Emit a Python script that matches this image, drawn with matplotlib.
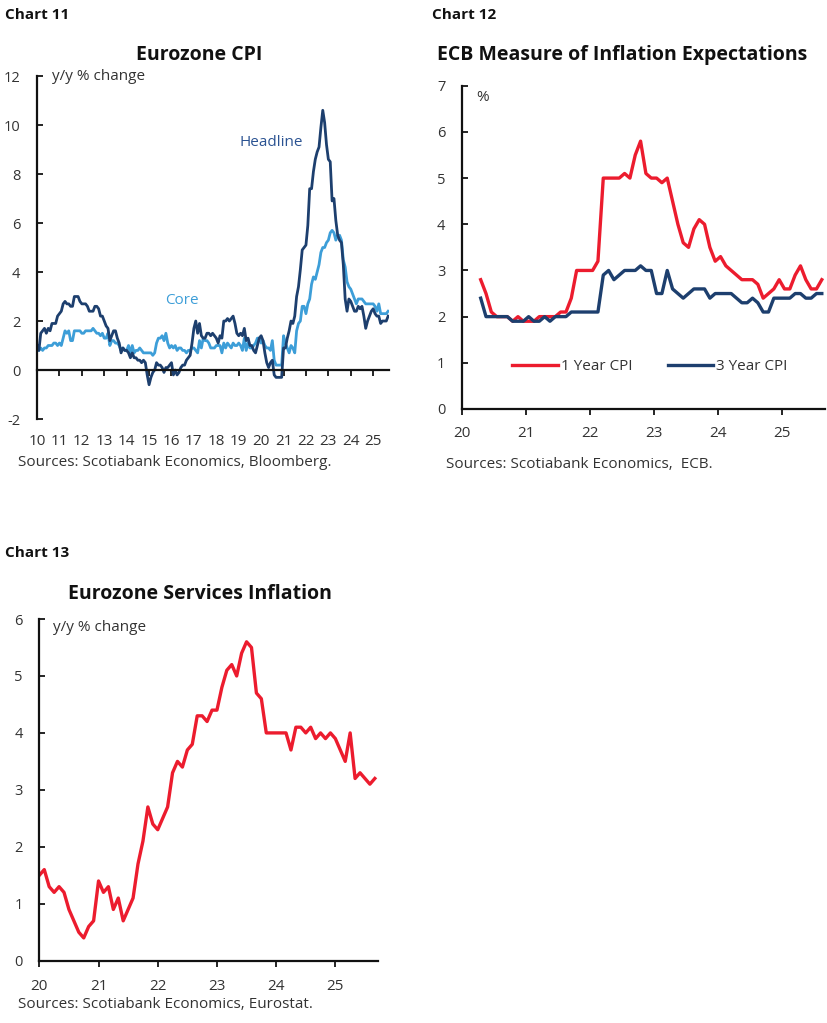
import numpy as np
import matplotlib
matplotlib.use("Agg")
import matplotlib.pyplot as plt

plt.rcParams['font.family'] = ['Open Sans', 'DejaVu Sans']

NAVY = '#1d3f6e'
LIGHT = '#3d9ed8'
RED = '#ec1c2e'
TXT = '#333333'

# ---- Chart 11 : Eurozone CPI (monthly, Jan 2010 - Sep 2025) ----
headline = [
    1.0, 0.8, 1.5, 1.6, 1.7, 1.5, 1.7, 1.6, 1.9, 1.9, 1.9, 2.2,
    2.3, 2.4, 2.7, 2.8, 2.7, 2.7, 2.6, 2.6, 3.0, 3.0, 3.0, 2.8,
    2.7, 2.7, 2.7, 2.6, 2.4, 2.4, 2.4, 2.6, 2.6, 2.5, 2.2, 2.2,
    2.0, 1.8, 1.7, 1.2, 1.4, 1.6, 1.6, 1.3, 1.1, 0.7, 0.9, 0.8,
    0.8, 0.7, 0.5, 0.7, 0.5, 0.5, 0.4, 0.4, 0.3, 0.4, 0.3, -0.2,
    -0.6, -0.3, -0.1, 0.0, 0.3, 0.2, 0.2, 0.1, -0.1, 0.1, 0.1, 0.2,
    0.3, -0.2, 0.0, -0.2, -0.1, 0.1, 0.2, 0.2, 0.4, 0.5, 0.6, 1.1,
    1.7, 2.0, 1.5, 1.9, 1.4, 1.3, 1.3, 1.5, 1.5, 1.4, 1.5, 1.4,
    1.3, 1.1, 1.4, 1.3, 2.0, 2.0, 2.1, 2.0, 2.1, 2.2, 1.9, 1.5,
    1.4, 1.5, 1.4, 1.7, 1.2, 1.3, 1.0, 1.0, 0.8, 0.7, 1.0, 1.3,
    1.4, 1.2, 0.7, 0.3, 0.1, 0.3, 0.4, -0.2, -0.3, -0.3, -0.3, -0.3,
    0.9, 0.9, 1.3, 1.6, 2.0, 1.9, 2.2, 3.0, 3.4, 4.1, 4.9, 5.0,
    5.1, 5.9, 7.4, 7.4, 8.1, 8.6, 8.9, 9.1, 9.9, 10.6, 10.1, 9.2,
    8.6, 8.5, 6.9, 7.0, 6.1, 5.5, 5.3, 5.2, 4.3, 2.9, 2.4, 2.9,
    2.8, 2.6, 2.4, 2.4, 2.6, 2.5, 2.6, 2.2, 1.7, 2.0, 2.2, 2.4,
    2.5, 2.3, 2.2, 2.2, 1.9, 2.0, 2.0, 2.0, 2.2,
]
core = [
    0.9, 0.8, 0.9, 0.8, 0.9, 0.9, 1.0, 1.0, 1.0, 1.1, 1.1, 1.0,
    1.1, 1.0, 1.3, 1.6, 1.5, 1.6, 1.2, 1.2, 1.6, 1.6, 1.6, 1.6,
    1.5, 1.5, 1.6, 1.6, 1.6, 1.6, 1.7, 1.6, 1.5, 1.5, 1.4, 1.5,
    1.3, 1.3, 1.5, 1.0, 1.2, 1.2, 1.1, 1.1, 1.0, 0.8, 0.9, 0.8,
    0.8, 1.0, 0.7, 1.0, 0.7, 0.8, 0.8, 0.9, 0.8, 0.7, 0.7, 0.7,
    0.7, 0.7, 0.6, 0.7, 1.1, 1.3, 1.3, 1.4, 1.2, 1.5, 1.1, 0.9,
    1.0, 0.9, 1.0, 0.8, 0.9, 0.9, 0.8, 0.8, 0.7, 0.8, 0.8, 0.9,
    0.9, 0.8, 0.7, 1.2, 0.9, 1.3, 1.2, 1.2, 1.1, 0.9, 0.9, 0.9,
    1.0, 1.0, 1.0, 0.7, 1.1, 0.9, 1.1, 1.0, 0.9, 1.1, 1.0, 1.0,
    1.1, 1.0, 0.8, 1.3, 0.8, 1.1, 0.9, 0.9, 1.0, 1.1, 1.3, 1.3,
    1.1, 1.2, 1.0, 0.9, 0.9, 0.8, 1.2, 0.4, 0.2, 0.2, 0.2, 0.2,
    1.4, 1.1, 0.9, 0.7, 1.0, 0.9, 0.7, 1.6, 1.9, 2.0, 2.6, 2.6,
    2.3, 2.7, 2.9, 3.5, 3.8, 3.7, 4.0, 4.3, 4.8, 5.0, 5.0, 5.2,
    5.3, 5.6, 5.7, 5.6, 5.3, 5.5, 5.5, 5.3, 4.5, 4.2, 3.6, 3.4,
    3.3, 3.1, 2.9, 2.7, 2.9, 2.9, 2.9, 2.8, 2.7, 2.7, 2.7, 2.7,
    2.7, 2.6, 2.4, 2.7, 2.3, 2.3, 2.3, 2.3, 2.4,
]
cpi_years = list(range(2010, 2026))
cpi_year_labels = [str(y)[2:] for y in cpi_years]

# ---- Chart 12 : ECB consumer expectations (Apr 2020 - Aug 2025) ----
exp_1y = [
    2.8, 2.5, 2.1, 2.0, 2.0, 2.0, 1.9, 2.0, 1.9,
    1.9, 1.9, 2.0, 2.0, 2.0, 2.0, 2.1, 2.1, 2.4, 3.0, 3.0, 3.0,
    3.0, 3.2, 5.0, 5.0, 5.0, 5.0, 5.1, 5.0, 5.5, 5.8, 5.1, 5.0,
    5.0, 4.9, 5.0, 4.5, 4.0, 3.6, 3.5, 3.9, 4.1, 4.0, 3.5, 3.2,
    3.3, 3.1, 3.0, 2.9, 2.8, 2.8, 2.8, 2.7, 2.4, 2.5, 2.6, 2.8,
    2.6, 2.6, 2.9, 3.1, 2.8, 2.6, 2.6, 2.8,
]
exp_3y = [
    2.4, 2.0, 2.0, 2.0, 2.0, 2.0, 1.9, 1.9, 1.9,
    2.0, 1.9, 1.9, 2.0, 1.9, 2.0, 2.0, 2.0, 2.1, 2.1, 2.1, 2.1,
    2.1, 2.1, 2.9, 3.0, 2.8, 2.9, 3.0, 3.0, 3.0, 3.1, 3.0, 3.0,
    2.5, 2.5, 3.0, 2.6, 2.5, 2.4, 2.5, 2.6, 2.6, 2.6, 2.4, 2.5,
    2.5, 2.5, 2.5, 2.4, 2.3, 2.3, 2.4, 2.3, 2.1, 2.1, 2.4, 2.4,
    2.4, 2.4, 2.5, 2.5, 2.4, 2.4, 2.5, 2.5,
]
exp_years = list(range(2020, 2026))
exp_year_labels = [str(y)[2:] for y in exp_years]

# ---- Chart 13 : Eurozone services inflation (Jan 2020 - Sep 2025) ----
services = [
    1.5, 1.6, 1.3, 1.2, 1.3, 1.2, 0.9, 0.7, 0.5, 0.4, 0.6, 0.7,
    1.4, 1.2, 1.3, 0.9, 1.1, 0.7, 0.9, 1.1, 1.7, 2.1, 2.7, 2.4,
    2.3, 2.5, 2.7, 3.3, 3.5, 3.4, 3.7, 3.8, 4.3, 4.3, 4.2, 4.4,
    4.4, 4.8, 5.1, 5.2, 5.0, 5.4, 5.6, 5.5, 4.7, 4.6, 4.0, 4.0,
    4.0, 4.0, 4.0, 3.7, 4.1, 4.1, 4.0, 4.1, 3.9, 4.0, 3.9, 4.0,
    3.9, 3.7, 3.5, 4.0, 3.2, 3.3, 3.2, 3.1, 3.2,
]
svc_years = list(range(2020, 2026))
svc_year_labels = [str(y)[2:] for y in svc_years]


def month_axis(start, n, offset=0.0):
    return start + np.arange(n) / 12.0 + offset


def style(ax, xt, xl, yt, xpad, ypad):
    for s in ['top', 'right']:
        ax.spines[s].set_visible(False)
    for s in ['left', 'bottom']:
        ax.spines[s].set_linewidth(1.6)
        ax.spines[s].set_color('#111111')
    ax.set_xticks(xt)
    ax.set_xticklabels(xl)
    ax.set_yticks(yt)
    ax.tick_params(axis='y', direction='in', length=4, width=1.2,
                   pad=ypad, labelsize=10.5, labelcolor=TXT)
    ax.tick_params(axis='x', direction='out', length=4, width=1.2,
                   pad=xpad, labelsize=11, labelcolor=TXT)


fig = plt.figure(figsize=(8.28, 10.23), dpi=100)

# Chart 11
ax1 = fig.add_axes([0.0447, 0.5904, 0.4255, 0.3353])
x11 = month_axis(2010, len(headline))
ax1.plot(x11, core, color=LIGHT, lw=2.0)
ax1.plot(x11, headline, color=NAVY, lw=2.0)
ax1.set_xlim(2010, 2025.72)
ax1.set_ylim(-2, 12)
ax1.spines['bottom'].set_position(('data', 0))
style(ax1, cpi_years, cpi_year_labels, range(-2, 13, 2), 42, 12)
ax1.set_yticklabels([str(v) for v in range(-2, 13, 2)])
ax1.text(0.043, 1.0, 'y/y % change', transform=ax1.transAxes, fontsize=11,
         color=TXT, va='center')
ax1.text(2019.05, 9.3, 'Headline', color='#2b5392', fontsize=11, va='center')
ax1.text(2015.7, 2.85, 'Core', color=LIGHT, fontsize=11, va='center')
fig.text(199 / 828, 1 - 55 / 1023, 'Eurozone CPI', ha='center', va='center',
         fontsize=14, fontweight='bold', color='#111111')
fig.text(5 / 828, 1 - 15 / 1023, 'Chart 11', ha='left', va='center',
         fontsize=11, fontweight='bold', color='#111111')
fig.text(18 / 828, 1 - 463 / 1023, 'Sources: Scotiabank Economics, Bloomberg.',
         ha='left', va='center', fontsize=11, color=TXT)

# Chart 12
ax2 = fig.add_axes([0.558, 0.6002, 0.438, 0.316])
x12 = month_axis(2020.25, len(exp_1y), 1 / 24)
ax2.plot(x12, exp_1y, color=RED, lw=2.4, label='1 Year CPI')
ax2.plot(x12, exp_3y, color=NAVY, lw=2.4, label='3 Year CPI')
ax2.set_xlim(2020, 2025.67)
ax2.set_ylim(0, 7)
style(ax2, exp_years, exp_year_labels, range(0, 8), 8, 12)
ax2.text(0.04, 0.965, '%', transform=ax2.transAxes, fontsize=11,
         color=TXT, va='center')
ax2.legend(loc='center left', bbox_to_anchor=(0.1, 0.13), ncol=2, frameon=False,
           fontsize=11, handlelength=3.0, handletextpad=0.2, columnspacing=2.3,
           labelcolor=TXT)
fig.text(622 / 828, 1 - 55 / 1023, 'ECB Measure of Inflation Expectations',
         ha='center', va='center', fontsize=14, fontweight='bold', color='#111111')
fig.text(432 / 828, 1 - 15 / 1023, 'Chart 12', ha='left', va='center',
         fontsize=11, fontweight='bold', color='#111111')
fig.text(446 / 828, 1 - 464 / 1023, 'Sources: Scotiabank Economics,  ECB.',
         ha='left', va='center', fontsize=11, color=TXT)

# Chart 13
ax3 = fig.add_axes([0.0475, 0.0609, 0.409, 0.334])
x13 = month_axis(2020, len(services))
ax3.plot(x13, services, color=RED, lw=2.4)
ax3.set_xlim(2020, 2025.72)
ax3.set_ylim(0, 6)
style(ax3, svc_years, svc_year_labels, range(0, 7), 9, 12)
ax3.text(0.04, 0.975, 'y/y % change', transform=ax3.transAxes, fontsize=11,
         color=TXT, va='center')
fig.text(200 / 828, 1 - 594 / 1023, 'Eurozone Services Inflation', ha='center',
         va='center', fontsize=14, fontweight='bold', color='#111111')
fig.text(5 / 828, 1 - 553 / 1023, 'Chart 13', ha='left', va='center',
         fontsize=11, fontweight='bold', color='#111111')
fig.text(18 / 828, 1 - 1004 / 1023, 'Sources: Scotiabank Economics, Eurostat.',
         ha='left', va='center', fontsize=11, color=TXT)

fig.savefig('out.png', dpi=100, facecolor='white')
